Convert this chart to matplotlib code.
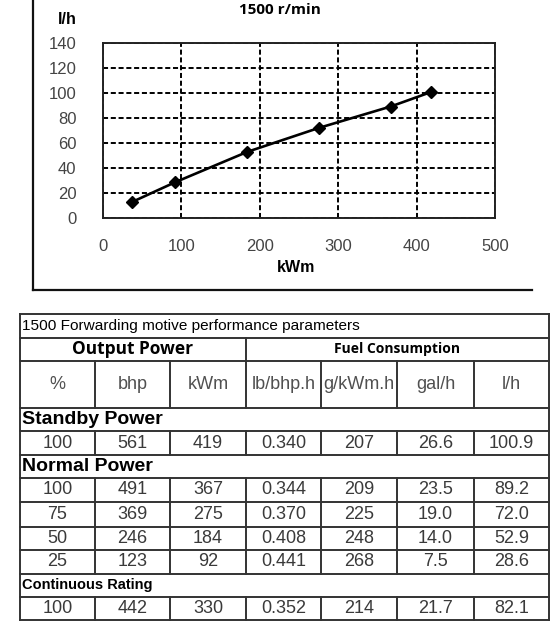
import matplotlib
matplotlib.use("Agg")
import matplotlib.pyplot as plt
from matplotlib.lines import Line2D
from matplotlib import font_manager

# ---------------- data ----------------
chart_title = "1500 r/min"
x_label = "kWm"
y_label = "l/h"
kwm = [37, 92, 184, 275, 367, 419]
lph = [12.8, 28.6, 52.9, 72.0, 89.2, 100.9]
x_ticks = [0, 100, 200, 300, 400, 500]
y_ticks = [0, 20, 40, 60, 80, 100, 120, 140]

table_title = "1500 Forwarding motive performance parameters"
group_headers = ["Output Power", "Fuel Consumption"]
columns = ["%", "bhp", "kWm", "lb/bhp.h", "g/kWm.h", "gal/h", "l/h"]
sections = ["Standby Power", "Normal Power", "Continuous Rating"]
standby_rows = [["100", "561", "419", "0.340", "207", "26.6", "100.9"]]
normal_rows = [
    ["100", "491", "367", "0.344", "209", "23.5", "89.2"],
    ["75", "369", "275", "0.370", "225", "19.0", "72.0"],
    ["50", "246", "184", "0.408", "248", "14.0", "52.9"],
    ["25", "123", "92", "0.441", "268", "7.5", "28.6"],
]
continuous_rows = [["100", "442", "330", "0.352", "214", "21.7", "82.1"]]

# ---------------- figure ----------------
W, H = 560, 625
fig = plt.figure(figsize=(W / 100, H / 100), dpi=100)
fig.patch.set_facecolor("white")

def fx(x):
    return x / W

def fy(y):
    return 1 - y / H

def hline(x0, x1, y, lw=1.4, color="#333333"):
    fig.add_artist(Line2D([fx(x0), fx(x1)], [fy(y), fy(y)], lw=lw, color=color,
                          transform=fig.transFigure, solid_capstyle="projecting"))

def vline(x, y0, y1, lw=1.4, color="#333333"):
    fig.add_artist(Line2D([fx(x), fx(x)], [fy(y0), fy(y1)], lw=lw, color=color,
                          transform=fig.transFigure, solid_capstyle="projecting"))

def has_font(name):
    try:
        font_manager.findfont(name, fallback_to_default=False)
        return True
    except Exception:
        return False

ARIAL = "Liberation Sans"
HEAD = "Open Sans" if has_font("Open Sans") else ARIAL
NARROW = "Liberation Sans Narrow" if has_font("Liberation Sans Narrow") else ARIAL
narrow_size = 12 if NARROW != ARIAL else 11.1

# ---------------- chart ----------------
L, R, T, B = 103, 495, 43, 218
ax = fig.add_axes([fx(L), fy(B), (R - L) / W, (B - T) / H])
ax.plot(kwm, lph, color="black", lw=1.9, marker="D", markersize=6.5,
        markerfacecolor="black", markeredgecolor="black", zorder=3)
ax.set_xlim(0, 500)
ax.set_ylim(0, 140)
ax.set_xticks(x_ticks)
ax.set_yticks(y_ticks)
ax.grid(True, color="black", linestyle=(0, (2.6, 1.4)), lw=1.4)
ax.tick_params(length=0, labelsize=12, labelcolor="#444444")
ax.tick_params(axis="y", pad=19)
ax.tick_params(axis="x", pad=15)
for lab in ax.get_xticklabels() + ax.get_yticklabels():
    lab.set_fontfamily(ARIAL)
for s in ax.spines.values():
    s.set_color("#222222")
    s.set_linewidth(1.4)

fig.text(fx(280), fy(10), chart_title, ha="center", va="center",
         fontsize=11, fontweight="bold", family=HEAD)
fig.text(fx(67), fy(19), y_label, ha="center", va="center",
         fontsize=11.5, fontweight="bold", family=ARIAL)
fig.text(fx(296), fy(267), x_label, ha="center", va="center",
         fontsize=11.5, fontweight="bold", family=ARIAL)

# outer chart frame (left and bottom)
vline(33, -5, 290, lw=1.6, color="#111111")
hline(33, 532, 290, lw=1.6, color="#111111")

# ---------------- table ----------------
cx = [20, 95, 170, 246, 321, 397, 474, 549]
ry = [314, 338, 361, 408, 431, 455, 478, 502, 527, 550, 574, 597, 620]

plan = [("title", None), ("group", None), ("head", None)]
for sec, rows in zip(sections, [standby_rows, normal_rows, continuous_rows]):
    plan.append(("section", sec))
    for r in rows:
        plan.append(("data", r))

for y in ry:
    hline(cx[0], cx[-1], y)
vline(cx[0], ry[0], ry[-1])
vline(cx[-1], ry[0], ry[-1])

txt_col = "#3a3a3a"
for i, (kind, content) in enumerate(plan):
    y0, y1 = ry[i], ry[i + 1]
    yc = (y0 + y1) / 2
    if kind == "title":
        fig.text(fx(cx[0] + 2), fy(yc), table_title, ha="left", va="center",
                 fontsize=narrow_size, family=NARROW, color="black")
    elif kind == "group":
        vline(cx[3], y0, y1)
        fig.text(fx((cx[0] + cx[3]) / 2), fy(yc), group_headers[0], ha="center",
                 va="center", fontsize=12.5, fontweight="bold", family=HEAD)
        fig.text(fx((cx[3] + cx[-1]) / 2), fy(yc), group_headers[1], ha="center",
                 va="center", fontsize=10, fontweight="bold", family=HEAD)
    elif kind == "head":
        for j in range(1, 7):
            vline(cx[j], y0, y1)
        for j, c in enumerate(columns):
            fig.text(fx((cx[j] + cx[j + 1]) / 2), fy(yc), c, ha="center",
                     va="center", fontsize=13, family=ARIAL, color="#505050")
    elif kind == "section":
        size = 10.5 if content == "Continuous Rating" else 14
        fig.text(fx(cx[0] + 2), fy(yc), content, ha="left", va="center",
                 fontsize=size, fontweight="bold", family=ARIAL, color="black")
    else:
        for j in range(1, 7):
            vline(cx[j], y0, y1)
        for j, v in enumerate(content):
            fig.text(fx((cx[j] + cx[j + 1]) / 2), fy(yc), v, ha="center",
                     va="center", fontsize=13, family=ARIAL, color=txt_col)

fig.savefig("out.png", dpi=100, facecolor="white")
